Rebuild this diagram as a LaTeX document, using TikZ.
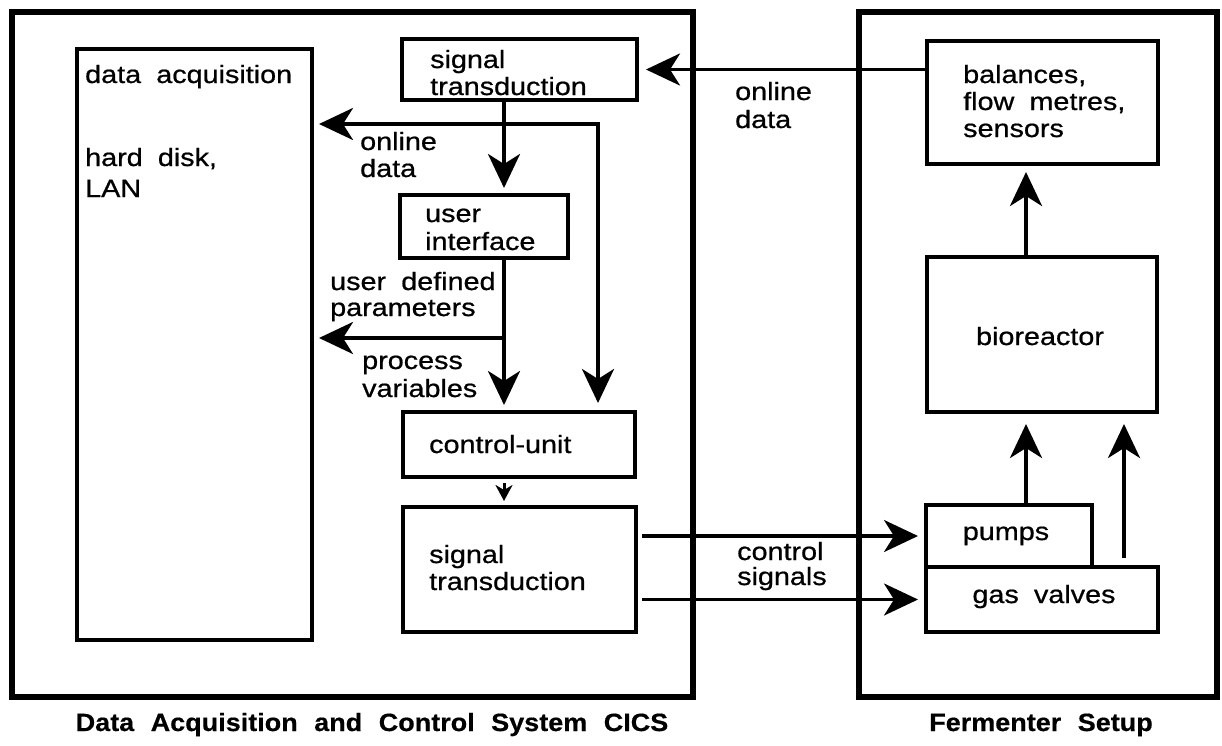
\documentclass[tikz,border=0pt]{standalone}
\usepackage{fontspec}
\setmainfont{Liberation Sans}[FakeStretch=1.15, WordSpace=1.9, FakeBold=0.7]
\newfontfamily\ttlfont{Liberation Sans}[FakeStretch=1.08, WordSpace=2.2, FakeBold=0.5]
\usetikzlibrary{arrows.meta,fit,calc}
\begin{document}
\begin{tikzpicture}[x=1pt,y=-1pt,
  frame/.style={draw, line width=6.5pt, inner sep=0pt, rectangle},
  box/.style={draw, line width=4pt, inner sep=0pt, rectangle},
  lbl/.style={inner sep=0pt, anchor=base west, font=\fontsize{25}{27}\selectfont},
  clbl/.style={lbl, anchor=base},
  ttl/.style={inner sep=0pt, anchor=base, font=\ttlfont\fontsize{25}{27}\selectfont\bfseries},
  bighead/.tip={Stealth[length=34pt,width=32pt,inset=10pt]},
  arr/.style={line width=3.8pt, -bighead},
  arrb/.style={line width=3.2pt, -bighead},
  sarr/.style={line width=3pt, -{Stealth[length=16pt,width=17pt,inset=5pt]}}]
\useasboundingbox (0,0) rectangle (1222,745);
% frames
\node[frame, fit={(12,12) (693,697)}] (cics) {};
\node[frame, fit={(859,12) (1217,697)}] (ferm) {};
% boxes
\node[box, fit={(77,49) (312,640)}] (daq) {};
\node[box, fit={(402,39) (637,100)}] (sigtop) {};
\node[box, fit={(400,195) (568,258)}] (ui) {};
\node[box, fit={(403,412) (635,477)}] (ctrl) {};
\node[box, fit={(403,507) (636,632)}] (sigbot) {};
\node[box, fit={(927,41) (1158,164)}] (bal) {};
\node[box, fit={(927,257) (1157,412)}] (bio) {};
\node[box, fit={(926,505) (1092,567)}] (pumps) {};
\node[box, fit={(926,567) (1158,632)}] (gas) {};
% texts
\node[lbl] (tdaq) at (85,83) {data acquisition};
\node[lbl] (thd) at (85,166) {hard disk,};
\node[lbl] (tlan) at (85,197) {LAN};
\node[lbl] (tsta) at (430,68) {signal};
\node[lbl] (tstb) at (430,95) {transduction};
\node[lbl] (toda) at (735,100) {online};
\node[lbl] (todb) at (735,128) {data};
\node[lbl] (tola) at (360,150) {online};
\node[lbl] (tolb) at (360,177) {data};
\node[lbl] (tuia) at (425,222) {user};
\node[lbl] (tuib) at (425,250) {interface};
\node[lbl] (tuda) at (330,290) {user defined};
\node[lbl] (tudb) at (330,316) {parameters};
\node[lbl] (tpva) at (362,369) {process};
\node[lbl] (tpvb) at (362,397) {variables};
\node[lbl] (tcu) at (429,453) {control-unit};
\node[lbl] (tsba) at (429,563) {signal};
\node[lbl] (tsbb) at (429,590) {transduction};
\node[lbl] (tcsa) at (737,560) {control};
\node[lbl] (tcsb) at (737,585) {signals};
\node[lbl] (tbala) at (963,83) {balances,};
\node[lbl] (tbalb) at (963,110) {flow metres,};
\node[lbl] (tbalc) at (963,137) {sensors};
\node[clbl] (tbio) at (1040,345) {bioreactor};
\node[clbl] (tpump) at (1006,540) {pumps};
\node[clbl] (tgas) at (1044,603) {gas valves};
\node[ttl] (ttl1) at (372,731) {Data Acquisition and Control System CICS};
\node[ttl] (ttl2) at (1041,731) {Fermenter Setup};
% helper coordinates
\coordinate (spine) at (504,0);
\coordinate (jn) at (598,124);
\coordinate (jb) at (504,338);
\coordinate (pc) at (1026,0);
\coordinate (gc) at (1124,0);
% connectors
\draw[arr, shorten >=7pt] (bal.west |- sigtop.east) -- (sigtop.east);
\draw[arr, shorten >=5pt] (sigtop.south -| spine) -- (ui.north -| spine);
\draw[line width=3.8pt, bighead-bighead, shorten <=5pt, shorten >=7pt] (daq.east |- jn) -- (jn) -- (jn |- ctrl.north);
\draw[arr, shorten >=5pt] (ui.south -| spine) -- (ctrl.north -| spine);
\draw[arr, shorten >=5pt] (jb) -- (daq.east |- jb);
\draw[sarr, shorten <=4pt, shorten >=4pt] (ctrl.south -| spine) -- (sigbot.north -| spine);
\draw[arrb, shorten <=4pt, shorten >=6pt] (sigbot.east |- pumps.west) -- (pumps.west);
\draw[arrb, shorten <=4pt, shorten >=6pt] (sigbot.east |- gas.west) -- (gas.west);
\draw[arr, shorten >=10pt] (pumps.north -| pc) -- (bio.south -| pc);
\draw[arr, shorten <=7pt, shorten >=10pt] (gas.north -| gc) -- (bio.south -| gc);
\draw[arr, shorten >=6pt] (bio.north -| pc) -- (bal.south -| pc);
\end{tikzpicture}
\end{document}
